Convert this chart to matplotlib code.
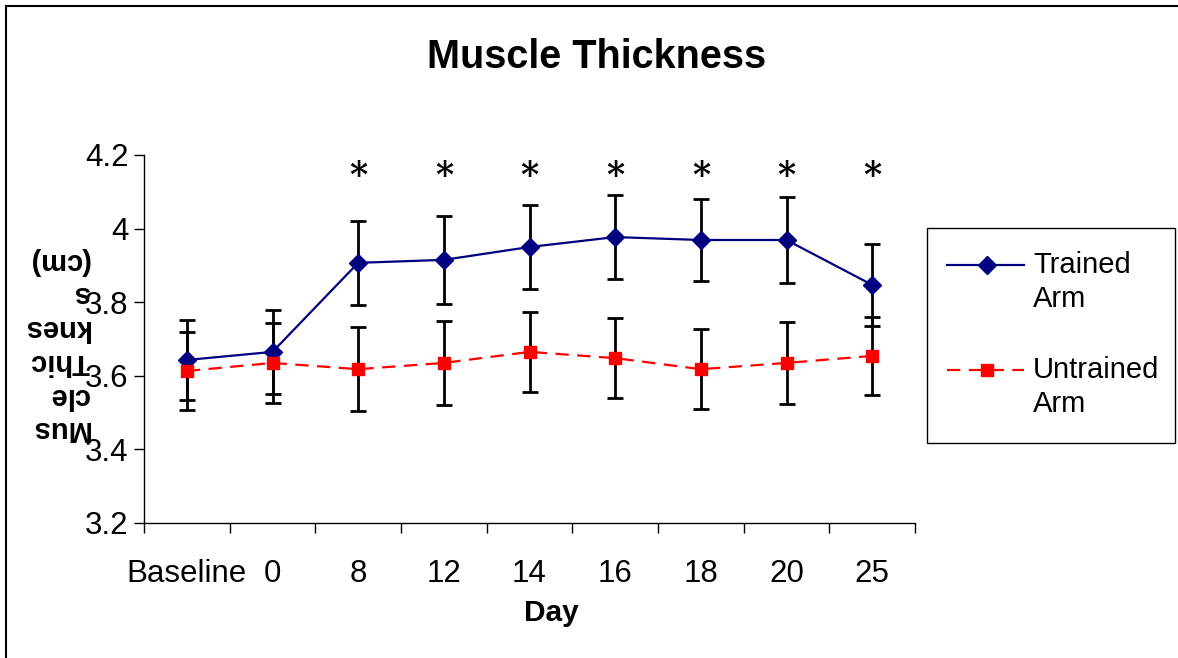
import matplotlib
matplotlib.use('Agg')
import matplotlib.pyplot as plt
import numpy as np
from matplotlib.lines import Line2D
from matplotlib.patches import Rectangle

plt.rcParams['font.family'] = ['Liberation Sans', 'DejaVu Sans']

days = ['Baseline', '0', '8', '12', '14', '16', '18', '20', '25']
trained = [3.643, 3.665, 3.907, 3.915, 3.950, 3.977, 3.969, 3.969, 3.847]
trained_err = [0.109, 0.114, 0.114, 0.120, 0.114, 0.114, 0.111, 0.117, 0.111]
untrained = [3.613, 3.635, 3.618, 3.635, 3.665, 3.648, 3.618, 3.635, 3.654]
untrained_err = [0.106, 0.109, 0.114, 0.114, 0.109, 0.109, 0.109, 0.111, 0.106]
signif = [False, False, True, True, True, True, True, True, True]

W, H = 1178, 658


def fx(px):
    return px / W


def fy(py):
    return 1 - py / H


fig = plt.figure(figsize=(W / 100, H / 100), dpi=100)
ax = fig.add_axes([fx(144), fy(523), (915 - 144) / W, (523 - 155) / H])

x = np.arange(len(days))
ax.errorbar(x, trained, yerr=trained_err, fmt='none', ecolor='black',
            elinewidth=2, capsize=5.5, capthick=2, zorder=2)
ax.errorbar(x, untrained, yerr=untrained_err, fmt='none', ecolor='black',
            elinewidth=2, capsize=5.5, capthick=2, zorder=2)
ax.plot(x, trained, color='#000080', lw=1.6, marker='D', ms=9, zorder=3)
ax.plot(x, untrained, color='#FF0000', lw=1.6, dashes=(6, 3.8), marker='s', ms=9,
        zorder=3)

for xi, s in zip(x, signif):
    if s:
        ax.text(xi, 4.143, '*', ha='center', va='center', fontsize=25,
                family='DejaVu Serif', fontweight='bold')

ax.set_xlim(-0.5, len(days) - 0.5)
ax.set_ylim(3.2, 4.2)
ax.set_yticks([3.2, 3.4, 3.6, 3.8, 4.0, 4.2])
ax.set_yticklabels(['3.2', '3.4', '3.6', '3.8', '4', '4.2'], fontsize=22.5)
ax.set_xticks(x)
ax.set_xticklabels(days, fontsize=22.5)
ax.set_xticks(np.arange(len(days) + 1) - 0.5, minor=True)
ax.tick_params(axis='x', which='major', length=0, pad=26)
ax.tick_params(axis='x', which='minor', length=7, width=1)
ax.tick_params(axis='y', length=7, width=1, pad=4)
for s in ['top', 'right']:
    ax.spines[s].set_visible(False)
for s in ['left', 'bottom']:
    ax.spines[s].set_linewidth(1)

fig.text(fx(551), fy(613), 'Day', fontsize=21.5, fontweight='bold',
         ha='center', va='center')
fig.text(fx(597), fy(57), 'Muscle Thickness', fontsize=28.5,
         fontweight='bold', ha='center', va='center')
fig.text(fx(56), fy(345), 'Mus\ncle\nThic\nknes\ns\n(cm)', fontsize=21,
         fontweight='bold', rotation=180, ha='center', va='center',
         multialignment='left', linespacing=1.26)

# legend box
fig.add_artist(Rectangle((fx(927), fy(443)), (1175 - 927) / W, (443 - 228) / H,
                         transform=fig.transFigure, fill=False,
                         edgecolor='black', lw=1))
entries = [('Trained\nArm', '#000080', 'D', 'solid', 265),
           ('Untrained\nArm', '#FF0000', 's', 'dashed', 370)]
for label, col, mk, ls, yy in entries:
    kw = dict(dashes=(6, 3.8)) if ls == 'dashed' else {}
    fig.add_artist(Line2D([fx(947), fx(1024)], [fy(yy), fy(yy)], color=col,
                          lw=1.6, **kw))
    fig.add_artist(Line2D([fx(987)], [fy(yy)], color=col, marker=mk, ms=9,
                          lw=0))
    fig.text(fx(1033), fy(yy + 17), label, fontsize=21, ha='left',
             va='center', linespacing=1.3)

fig.add_artist(Line2D([fx(6), fx(6)], [0, fy(6)], color='black', lw=1.5))
fig.add_artist(Line2D([fx(6), 1], [fy(6), fy(6)], color='black', lw=1.5))

fig.savefig('out.png', dpi=100)
